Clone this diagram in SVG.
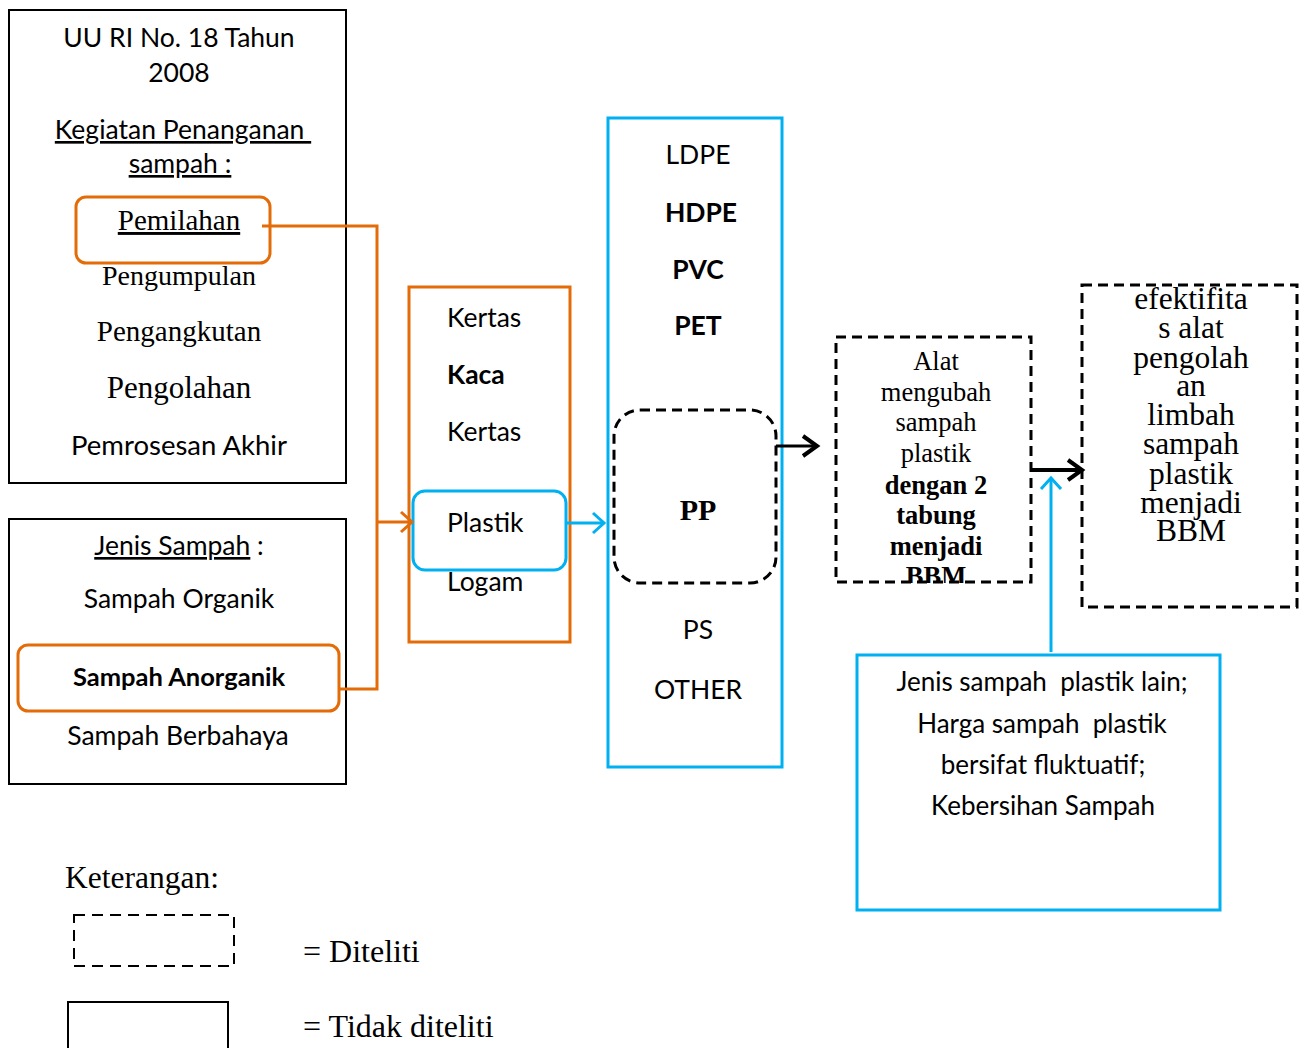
<svg xmlns="http://www.w3.org/2000/svg" width="1307" height="1048" viewBox="0 0 1307 1048">
<defs>
<style>
.box{fill:none;stroke:#000;stroke-width:2}
.dash{fill:none;stroke:#000;stroke-width:3;stroke-dasharray:10,6}
.org{fill:none;stroke:#E36C09;stroke-width:3}
.blu{fill:none;stroke:#00B0F0;stroke-width:3}
.cal{font-family:Lato,"Liberation Sans",sans-serif;font-size:26.5px;fill:#000}
.tnr{font-family:"Liberation Serif","Times New Roman",serif;font-size:28px;fill:#000}
.alt{font-size:26.5px}
.ef{font-size:31.5px}
.lg{font-size:32px}
.c{text-anchor:middle}
.b{font-weight:bold}
</style>
<marker id="ao" markerWidth="16" markerHeight="24" refX="13" refY="12" orient="auto" markerUnits="userSpaceOnUse"><path d="M2,2 L13,12 L2,22" fill="none" stroke="#E36C09" stroke-width="3"/></marker>
<marker id="ab" markerWidth="16" markerHeight="24" refX="13" refY="12" orient="auto" markerUnits="userSpaceOnUse"><path d="M2,2 L13,12 L2,22" fill="none" stroke="#00B0F0" stroke-width="3"/></marker>
<marker id="ak" markerWidth="20" markerHeight="26" refX="16" refY="13" orient="auto" markerUnits="userSpaceOnUse"><path d="M2,3 L16,13 L2,23" fill="none" stroke="#000" stroke-width="4"/></marker>
</defs>
<rect width="1307" height="1048" fill="#fff"/>

<g id="uu-box">
<rect class="box" x="9" y="10" width="337" height="473"/>
<text class="cal c" x="179" y="47">UU RI No. 18 Tahun</text>
<text class="cal c" x="179" y="82">2008</text>
<text class="cal c" x="183" y="139" text-decoration="underline" xml:space="preserve">Kegiatan Penanganan </text>
<text class="cal c" x="180" y="173" text-decoration="underline">sampah :</text>
<rect class="org" x="76" y="197" width="194" height="66" rx="10"/>
<text class="tnr c" x="179" y="230" style="font-size:29px" text-decoration="underline">Pemilahan</text>
<text class="tnr c" x="179" y="285">Pengumpulan</text>
<text class="tnr c" x="179" y="341" style="font-size:29px">Pengangkutan</text>
<text class="tnr c" x="179" y="398" style="font-size:31px">Pengolahan</text>
<text class="cal c" x="179" y="455" style="font-size:27.5px">Pemrosesan Akhir</text>
</g>

<g id="jenis-box">
<rect class="box" x="9" y="519" width="337" height="265"/>
<text class="cal c" x="179" y="555"><tspan text-decoration="underline">Jenis Sampah</tspan> :</text>
<text class="cal c" x="179" y="608">Sampah Organik</text>
<rect class="org" x="18" y="645" width="321" height="66" rx="10"/>
<text class="cal c b" x="179" y="686" style="font-size:25.5px">Sampah Anorganik</text>
<text class="cal c" x="178" y="745">Sampah Berbahaya</text>
</g>

<g id="material-box">
<rect class="org" x="409" y="287" width="161" height="355"/>
<text class="cal" x="447" y="327">Kertas</text>
<text class="cal b" x="447" y="384">Kaca</text>
<text class="cal" x="447" y="441">Kertas</text>
<rect class="blu" x="413" y="491" width="153" height="79" rx="12"/>
<text class="cal" x="447" y="532">Plastik</text>
<text class="cal" x="447" y="591">Logam</text>
</g>

<g id="plastic-types">
<rect class="blu" x="608" y="118" width="174" height="649"/>
<text class="cal c" x="698" y="164">LDPE</text>
<text class="cal c b" x="701" y="222">HDPE</text>
<text class="cal c b" x="698" y="279">PVC</text>
<text class="cal c b" x="698" y="335">PET</text>
<rect class="dash" x="614" y="410" width="162" height="173" rx="26"/>
<text class="tnr c b" x="698" y="520" style="font-size:30px">PP</text>
<text class="cal c" x="698" y="639">PS</text>
<text class="cal c" x="698" y="699">OTHER</text>
</g>

<g id="alat-box">
<text class="tnr alt c" x="936" y="370">Alat</text>
<text class="tnr alt c" x="936" y="401">mengubah</text>
<text class="tnr alt c" x="936" y="431">sampah</text>
<text class="tnr alt c" x="936" y="462">plastik</text>
<text class="tnr alt c b" x="936" y="494">dengan 2</text>
<text class="tnr alt c b" x="936" y="524">tabung</text>
<text class="tnr alt c b" x="936" y="555">menjadi</text>
<text class="tnr alt c b" x="936" y="585">BBM</text>
<rect x="836" y="583" width="195" height="10" fill="#fff"/>
<rect class="dash" x="836" y="337" width="195" height="245"/>
</g>

<g id="efektif-box">
<rect class="dash" x="1082" y="285" width="215" height="322"/>
<text class="tnr ef c" x="1191" y="309">efektifita</text>
<text class="tnr ef c" x="1191" y="338">s alat</text>
<text class="tnr ef c" x="1191" y="368">pengolah</text>
<text class="tnr ef c" x="1191" y="396">an</text>
<text class="tnr ef c" x="1191" y="425">limbah</text>
<text class="tnr ef c" x="1191" y="454">sampah</text>
<text class="tnr ef c" x="1191" y="484">plastik</text>
<text class="tnr ef c" x="1191" y="513">menjadi</text>
<text class="tnr ef c" x="1191" y="541">BBM</text>
</g>

<g id="faktor-box">
<rect class="blu" x="857" y="655" width="363" height="255"/>
<text class="cal c" x="1042" y="691" style="font-size:26px" xml:space="preserve">Jenis sampah  plastik lain;</text>
<text class="cal c" x="1042" y="733" style="font-size:26px" xml:space="preserve">Harga sampah  plastik</text>
<text class="cal c" x="1043" y="774" style="font-size:26px">bersifat fluktuatif;</text>
<text class="cal c" x="1043" y="815" style="font-size:26px">Kebersihan Sampah</text>
</g>

<g id="connectors">
<polyline class="org" points="262,226 377,226 377,689 339,689"/>
<line class="org" x1="377" y1="522" x2="412" y2="522" marker-end="url(#ao)"/>
<line class="blu" x1="566" y1="523" x2="604" y2="523" marker-end="url(#ab)"/>
<line x1="776" y1="446" x2="817" y2="446" stroke="#000" stroke-width="3" marker-end="url(#ak)"/>
<line x1="1031" y1="470" x2="1082" y2="470" stroke="#000" stroke-width="4" marker-end="url(#ak)"/>
<line class="blu" x1="1051" y1="652" x2="1051" y2="478" stroke-width="4" marker-end="url(#ab)"/>
</g>

<g id="legend">
<text class="tnr lg" x="65" y="888" style="font-size:31.5px">Keterangan:</text>
<rect x="74" y="915" width="160" height="51" fill="none" stroke="#000" stroke-width="2" stroke-dasharray="11,7"/>
<text class="tnr lg" x="303" y="962">= Diteliti</text>
<rect class="box" x="68" y="1002" width="160" height="60"/>
<text class="tnr lg" x="303" y="1037">= Tidak diteliti</text>
</g>
</svg>
